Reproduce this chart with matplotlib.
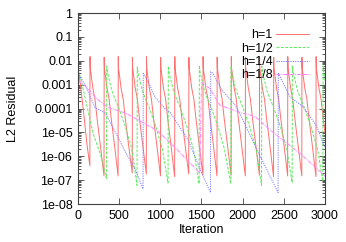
# plot.py
#
# L2 residual history for different mesh sizes h (restarted solver)

#----------------------------------------------------------------------
#   Imports
# ----------------------------------------------------------------------

import matplotlib
matplotlib.use('Agg')
import matplotlib.pyplot as plt
from   matplotlib.ticker import LogLocator, NullFormatter, FixedLocator

#----------------------------------------------------------------------
#   Data
# ----------------------------------------------------------------------

# h = 1
red_iter = [0, 30, 70, 110, 144,
            146, 149, 181, 206, 231, 271, 316,
            318, 321, 353, 378, 403, 443, 487,
            489, 492, 524, 549, 574, 614, 659,
            661, 664, 696, 721, 746, 786, 830,
            832, 835, 867, 892, 917, 957, 1002,
            1004, 1007, 1039, 1064, 1089, 1129, 1174,
            1176, 1179, 1211, 1236, 1261, 1301, 1345,
            1347, 1350, 1382, 1407, 1432, 1472, 1517,
            1519, 1522, 1554, 1579, 1604, 1644, 1688,
            1690, 1693, 1725, 1750, 1775, 1815, 1860,
            1862, 1865, 1897, 1922, 1947, 1987, 2032,
            2034, 2037, 2069, 2094, 2119, 2159, 2203,
            2205, 2208, 2240, 2265, 2290, 2330, 2375,
            2377, 2380, 2412, 2437, 2462, 2502, 2546,
            2548, 2551, 2583, 2608, 2633, 2673, 2718,
            2720, 2723, 2755, 2780, 2805, 2845, 2890,
            2892, 2895, 2927, 2952, 2977, 3000]
red_res  = [5e-3, 1e-3, 6e-5, 3e-6, 4e-7,
            1.5e-2, 5e-3, 7e-4, 2.5e-4, 4e-5, 3e-6, 1.5e-7,
            1.4e-2, 5e-3, 7e-4, 2.5e-4, 4e-5, 3e-6, 1.5e-7,
            1.5e-2, 5e-3, 7e-4, 2.5e-4, 4e-5, 3e-6, 2e-7,
            1.4e-2, 5e-3, 7e-4, 2.5e-4, 4e-5, 3e-6, 1.8e-7,
            1.5e-2, 5e-3, 7e-4, 2.5e-4, 4e-5, 3e-6, 1.5e-7,
            1.4e-2, 5e-3, 7e-4, 2.5e-4, 4e-5, 3e-6, 1.4e-7,
            1.5e-2, 5e-3, 7e-4, 2.5e-4, 4e-5, 3e-6, 1.8e-7,
            1.4e-2, 5e-3, 7e-4, 2.5e-4, 4e-5, 3e-6, 1.6e-7,
            1.5e-2, 5e-3, 7e-4, 2.5e-4, 4e-5, 3e-6, 1.5e-7,
            1.4e-2, 5e-3, 7e-4, 2.5e-4, 4e-5, 3e-6, 1.6e-7,
            1.5e-2, 5e-3, 7e-4, 2.5e-4, 4e-5, 3e-6, 1.5e-7,
            1.4e-2, 5e-3, 7e-4, 2.5e-4, 4e-5, 3e-6, 1.6e-7,
            1.5e-2, 5e-3, 7e-4, 2.5e-4, 4e-5, 3e-6, 1.4e-7,
            1.4e-2, 5e-3, 7e-4, 2.5e-4, 4e-5, 3e-6, 1.5e-7,
            1.5e-2, 5e-3, 7e-4, 2.5e-4, 4e-5, 3e-6, 1.5e-7,
            1.4e-2, 5e-3, 7e-4, 2.5e-4, 4e-5, 3e-6, 1.4e-7,
            1.5e-2, 5e-3, 7e-4, 2.5e-4, 4e-5, 1e-5]

# h = 1/2
green_iter = [0, 40, 90, 180, 280, 345,
              349, 359, 409, 449, 489, 574, 654, 717,
              720, 730, 780, 820, 860, 945, 1025, 1094,
              1097, 1107, 1157, 1197, 1237, 1322, 1402, 1471,
              1474, 1484, 1534, 1574, 1614, 1699, 1779, 1856,
              1859, 1869, 1919, 1959, 1999, 2084, 2164, 2229,
              2232, 2242, 2292, 2332, 2372, 2457, 2537, 2601,
              2604, 2614, 2664, 2704, 2744, 2829, 2909, 2974,
              2977, 2987, 3000]
green_res  = [4e-3, 1.5e-3, 2.5e-4, 1e-5, 1e-6, 1.2e-7,
              6e-3, 3.2e-3, 6e-4, 2.5e-4, 1.2e-4, 1.8e-5, 2e-6, 6e-8,
              5.5e-3, 3.2e-3, 6e-4, 2.5e-4, 1.2e-4, 1.8e-5, 2e-6, 7.5e-8,
              6e-3, 3.2e-3, 6e-4, 2.5e-4, 1.2e-4, 1.8e-5, 2e-6, 7e-8,
              6.5e-3, 3.2e-3, 6e-4, 2.5e-4, 1.2e-4, 1.8e-5, 2e-6, 7e-8,
              6e-3, 3.2e-3, 6e-4, 2.5e-4, 1.2e-4, 1.8e-5, 2e-6, 6e-8,
              6e-3, 3.2e-3, 6e-4, 2.5e-4, 1.2e-4, 1.8e-5, 2e-6, 8e-8,
              6e-3, 3.2e-3, 6e-4, 2.5e-4, 1.2e-4, 1.8e-5, 2e-6, 9e-8,
              6e-3, 3.2e-3, 1.5e-3]

# h = 1/4
blue_iter = [0, 85, 206, 328, 450, 571, 693, 790,
             793, 870, 935, 1057, 1118, 1336, 1503, 1609,
             1612, 1640, 1746, 1908, 1968, 2171, 2430,
             2433, 2576, 2734, 2900, 2977, 3000]
blue_res  = [3e-3, 1e-3, 1.1e-4, 6.6e-5, 1.1e-5, 1.6e-6, 3e-7, 4.3e-8,
             3e-3, 1e-3, 3e-4, 1e-4, 7e-5, 5e-6, 2e-7, 3e-8,
             3.5e-3, 3e-3, 6e-4, 1.4e-4, 6e-5, 2e-6, 3e-8,
             3e-3, 3e-4, 1.2e-4, 1.8e-5, 3.5e-6, 2.5e-6]

# h = 1/8
magenta_iter = [0, 100, 220, 365, 571, 770, 960, 1170, 1365, 1480,
                1500, 1600, 1722, 1968, 2090, 2171, 2369, 2697, 3000]
magenta_res  = [1.5e-3, 8e-4, 2.7e-4, 1.1e-4, 6.6e-5, 2.8e-5, 1.2e-5, 2.5e-6, 5e-7, 2e-7,
                1.2e-3, 7e-4, 1.4e-4, 6.7e-5, 5.4e-5, 4e-5, 1e-5, 1.3e-6, 1.5e-7]

x_ticks      = [0, 500, 1000, 1500, 2000, 2500, 3000]
y_ticks      = [1e-8, 1e-7, 1e-6, 1e-5, 1e-4, 1e-3, 1e-2, 1e-1, 1]
y_ticklabels = ['1e-08', '1e-07', '1e-06', '1e-05', '0.0001', '0.001', '0.01', '0.1', '1']

#----------------------------------------------------------------------
#   Plot
# ----------------------------------------------------------------------

def main():
    plt.rcParams['font.family'] = ['Liberation Sans', 'DejaVu Sans']
    font_size = 9

    fig = plt.figure(figsize=(3.46, 2.42), dpi=100)
    ax  = fig.add_axes([0.2254, 0.157, 0.7139, 0.789])

    ax.plot(red_iter, red_res, '-', color='#ff7070', lw=0.7, label='h=1')
    ax.plot(green_iter, green_res, color='#60e860', lw=0.7, dashes=(3, 1.5), label='h=1/2')
    ax.plot(blue_iter, blue_res, color='#7a7aff', lw=0.7, dashes=(1.2, 1.2), label='h=1/4')
    ax.plot(magenta_iter, magenta_res, color='#ff80ff', lw=0.7, dashes=(4, 1, 1, 1), label='h=1/8')

    ax.set_yscale('log')
    ax.set_xlim(0, 3000)
    ax.set_ylim(1e-8, 1)
    ax.xaxis.set_major_locator(FixedLocator(x_ticks))
    ax.yaxis.set_major_locator(FixedLocator(y_ticks))
    ax.set_yticklabels(y_ticklabels)
    ax.yaxis.set_minor_locator(LogLocator(base=10, subs=range(2, 10), numticks=20))
    ax.yaxis.set_minor_formatter(NullFormatter())

    ax.tick_params(which='both', direction='in', top=True, right=True, labelsize=font_size,
                   color='#404040', width=0.6)
    ax.tick_params(which='major', length=4, pad=4)
    ax.tick_params(which='minor', length=2)
    for spine in ax.spines.values():
        spine.set_color('#404040')
        spine.set_linewidth(0.8)

    ax.set_xlabel('Iteration', fontsize=font_size, labelpad=2)
    ax.set_ylabel('L2 Residual', fontsize=font_size, labelpad=11)

    ax.legend(loc='upper right', bbox_to_anchor=(0.97, 0.96), frameon=False, fontsize=font_size,
              markerfirst=False, handlelength=2.6, handletextpad=0.3, labelspacing=0.1,
              borderpad=0.2)

    fig.savefig('out.png', dpi=100)

# ----------------------------------------------------------------------
#   Call Main
# ----------------------------------------------------------------------

if __name__ == '__main__':
    main()
